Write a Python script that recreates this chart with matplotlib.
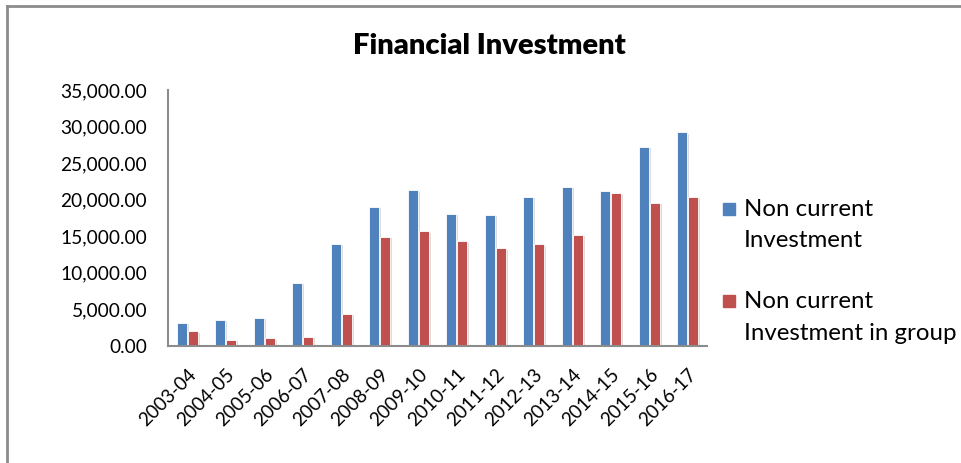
import matplotlib.pyplot as plt
import matplotlib.patheffects as pe
from matplotlib.lines import Line2D
import numpy as np

years = ["2003-04", "2004-05", "2005-06", "2006-07", "2007-08", "2008-09", "2009-10",
         "2010-11", "2011-12", "2012-13", "2013-14", "2014-15", "2015-16", "2016-17"]
non_current = [3200, 3600, 3850, 8600, 14000, 19050, 21300,
               18050, 17900, 20400, 21750, 21150, 27200, 29200]
non_current_group = [2000, 880, 1050, 1230, 4400, 14950, 15700,
                     14300, 13350, 13900, 15200, 20900, 19600, 20400]
yticks = [0, 5000, 10000, 15000, 20000, 25000, 30000, 35000]

BLUE = "#4f81bd"
RED = "#c0504d"
AXIS_GREY = "#8c8c8c"

plt.rcParams["font.family"] = ["Lato", "DejaVu Sans"]

fig = plt.figure(figsize=(9.62, 4.63), dpi=100)
ax = fig.add_axes([168 / 962, 1 - 346 / 463, 539 / 962, 256 / 463])

x = np.arange(len(years))
w = 0.255
shadow = [pe.SimplePatchShadow(offset=(1.5, -1), shadow_rgbFace="#bbbbbb", alpha=0.5), pe.Normal()]
b1 = ax.bar(x - w / 2 - 0.015, non_current, w, color=BLUE, edgecolor="white", linewidth=0.6)
b2 = ax.bar(x + w / 2 + 0.015, non_current_group, w, color=RED, edgecolor="white", linewidth=0.6)
for b in list(b1) + list(b2):
    b.set_path_effects(shadow)

ax.set_xlim(-0.5, len(years) - 0.5)
ax.set_ylim(0, 35000)
ax.set_yticks(yticks)
ax.set_yticklabels([f"{v:,.2f}" for v in yticks], fontsize=13.8)
ax.set_xticks(x)
ax.set_xticklabels(years, rotation=45, ha="right", rotation_mode="anchor", fontsize=13.6)
ax.tick_params(axis="both", length=0)
ax.tick_params(axis="y", pad=15)
ax.tick_params(axis="x", pad=14)

for s in ["top", "right"]:
    ax.spines[s].set_visible(False)
for s in ["left", "bottom"]:
    ax.spines[s].set_color(AXIS_GREY)
    ax.spines[s].set_linewidth(1.5)

fig.text(489 / 962, 1 - 46 / 463, "Financial Investment", ha="center", va="center",
         fontsize=21, fontweight="heavy")

# legend drawn beside the plot area
fig.patches.append(plt.Rectangle((723 / 962, 1 - 215 / 463), 12 / 962, 12 / 463,
                                 transform=fig.transFigure, color=BLUE, figure=fig))
fig.patches.append(plt.Rectangle((723 / 962, 1 - 307 / 463), 12 / 962, 12 / 463,
                                 transform=fig.transFigure, color=RED, figure=fig))
legend_lines = [("Non current", 209), ("Investment", 241),
                ("Non current", 302), ("Investment in group", 334)]
for txt, yy in legend_lines:
    fig.text(744 / 962, 1 - yy / 463, txt, ha="left", va="center", fontsize=17.3)

# chart frame
fig.add_artist(Line2D([7 / 962, 7 / 962], [0, 1 - 6 / 463], transform=fig.transFigure,
                      color=AXIS_GREY, linewidth=2))
fig.add_artist(Line2D([7 / 962, 1], [1 - 6 / 463, 1 - 6 / 463], transform=fig.transFigure,
                      color=AXIS_GREY, linewidth=2))

fig.savefig("out.png", dpi=100)
